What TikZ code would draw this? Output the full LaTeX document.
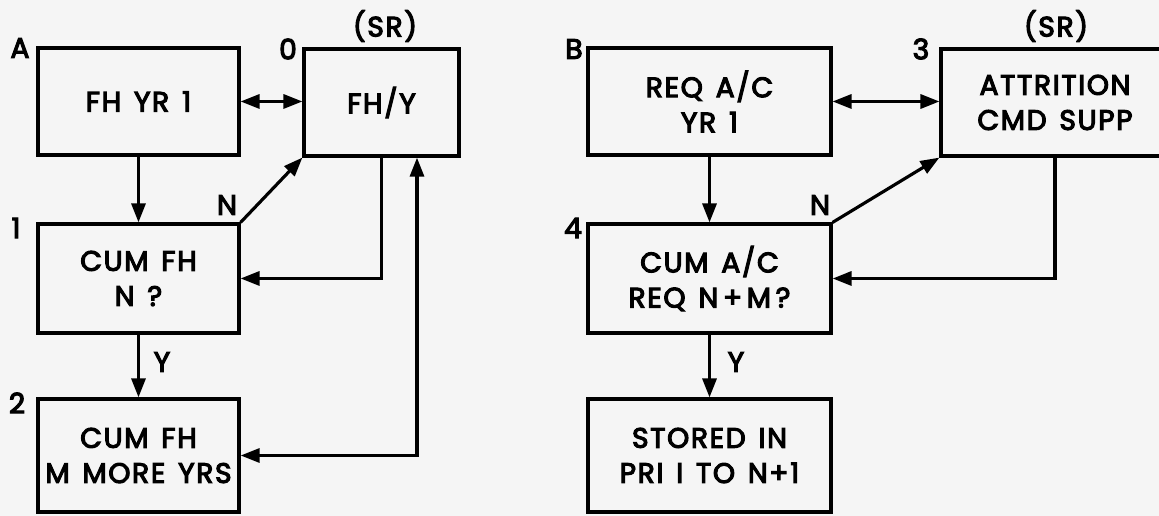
\documentclass[tikz,border=0pt]{standalone}
\usepackage{fontspec}
\setmainfont{Poppins}[FakeBold = 4, LetterSpace = 6, WordSpace = 1.4]
\usetikzlibrary{arrows.meta}
\begin{document}
\begin{tikzpicture}[x = 0.02cm, y = -0.02cm, line width = 1.8pt,
  >={Triangle[length = 0.38cm, width = 0.28cm]},
  box/.style = {draw = black, rectangle, align = center, inner sep = 0pt,
    font = \fontsize{16}{20}\selectfont},
  lbl/.style = {inner sep = 0pt, font = \fontsize{16}{20}\selectfont}]
\fill[black!4] (0,0) rectangle (1159,516);
\clip (0,0) rectangle (1159,516);
\node[box, minimum width = 4.02cm, minimum height = 2.14cm] (fhyr) at (138.5,101.5) {FH YR 1};
\node[box, minimum width = 3.1cm, minimum height = 2.14cm] (fhy) at (381.5,102.5) {FH/Y};
\node[box, minimum width = 4.02cm, minimum height = 2.18cm] (cumfh) at (138.5,278.5) {CUM FH\\N ?};
\node[box, minimum width = 4.02cm, minimum height = 2.26cm] (morefh) at (138.5,455.5) {CUM FH\\M MORE YRS};
\node[lbl] (labA) at (20,48) {A};
\node[lbl] (lab0) at (288,49) {0};
\node[lbl] (lab1) at (16,228) {1};
\node[lbl] (lab2) at (17,403) {2};
\node[lbl] (srl) at (385,26) {(SR)};
\node[lbl] (nl) at (227,205) {N};
\node[lbl] (yl) at (162,362) {Y};
\coordinate (upfh) at ([xshift = 0.71cm]fhy.south);
\draw[<->] (fhyr.east) -- (fhyr.east -| fhy.west);
\draw[->] (fhyr.south) -- (cumfh.north);
\draw[->] (cumfh.north east) -- (fhy.south west);
\draw[->] (fhy.south) |- (cumfh.east);
\draw[->] (cumfh.south) -- (morefh.north);
\draw[<->] (morefh.east) -| (upfh);
\node[box, minimum width = 4.86cm, minimum height = 2.14cm] (reqac) at (709.5,101.5) {REQ A/C\\YR 1};
\node[box, minimum width = 4.56cm, minimum height = 2.14cm] (attr) at (1055,102.5) {ATTRITION\\CMD SUPP};
\node[box, minimum width = 4.86cm, minimum height = 2.18cm] (cumac) at (709.5,278.5) {CUM A/C\\REQ N\,+\,M\,?};
\node[box, minimum width = 4.86cm, minimum height = 2.26cm] (stored) at (709.5,455.5) {STORED IN\\PRI I TO N+1};
\node[lbl] (labB) at (574,49) {B};
\node[lbl] (lab3) at (921,49) {3};
\node[lbl] (lab4) at (573,228) {4};
\node[lbl] (srr) at (1056,26) {(SR)};
\node[lbl] (nr) at (820,205) {N};
\node[lbl] (yr) at (736,362) {Y};
\draw[<->] (reqac.east) -- (reqac.east -| attr.west);
\draw[->] (reqac.south) -- (cumac.north);
\draw[->] (cumac.north east) -- (attr.south west);
\draw[->] (attr.south) |- (cumac.east);
\draw[->] (cumac.south) -- (stored.north);
\end{tikzpicture}
\end{document}
